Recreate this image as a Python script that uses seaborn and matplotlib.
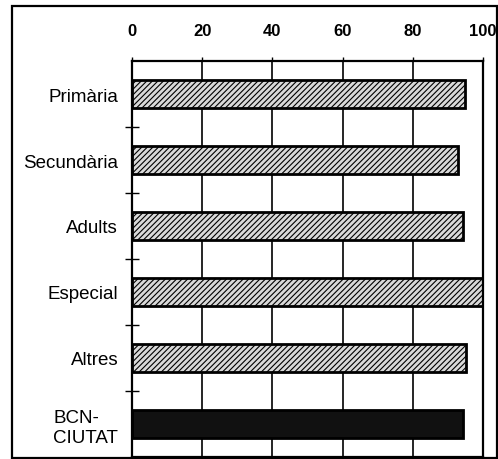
import matplotlib
matplotlib.use("Agg")
import matplotlib.pyplot as plt
import seaborn as sns
import pandas as pd
from matplotlib.patches import Rectangle
from matplotlib.ticker import FixedLocator

categories = ["Primària", "Secundària", "Adults", "Especial", "Altres", "BCN-\nCIUTAT"]
values = [94.9, 92.9, 94.3, 100.0, 95.2, 94.2]
fills = ["#d9d9d9", "#d9d9d9", "#d9d9d9", "#d9d9d9", "#d9d9d9", "#111111"]
hatches = ["//////", "//////", "//////", "//////", "//////", ""]
xticks = [0, 20, 40, 60, 80, 100]

sns.set_theme(style="white")
plt.rcParams["font.family"] = ["Liberation Sans", "DejaVu Sans"]
plt.rcParams["hatch.linewidth"] = 0.8

df = pd.DataFrame({"cat": categories, "val": values})

fig = plt.figure(figsize=(4.98, 4.60), dpi=100)
ax = fig.add_axes([132 / 498, 1 - 458 / 460, (483 - 132) / 498, (458 - 62) / 460])

sns.barplot(data=df, y="cat", x="val", hue="cat", palette=fills, legend=False,
            orient="h", width=0.41, ax=ax, edgecolor="black", linewidth=2.0,
            saturation=1)
for p, h in zip(ax.patches, hatches):
    p.set_hatch(h)

ax.set_xlim(0, 100)
ax.set_ylim(len(categories) - 0.5, -0.5)
ax.xaxis.tick_top()
ax.set_xticks(xticks)
ax.set_xticklabels([str(t) for t in xticks], fontsize=12, fontweight="bold")
ax.tick_params(axis="x", which="major", direction="out", length=3, width=1,
               pad=13.5, color="black", labelcolor="black")
ax.tick_params(axis="y", which="major", length=0, pad=10, labelsize=13.5,
               labelcolor="black")
for lab in ax.get_yticklabels():
    lab.set_multialignment("left")
ax.yaxis.set_minor_locator(FixedLocator([i + 0.5 for i in range(len(categories) - 1)]))
ax.tick_params(axis="y", which="minor", direction="inout", length=10, width=1,
               color="black", left=True)
ax.set_xlabel("")
ax.set_ylabel("")
ax.grid(False)
for x in xticks[1:-1]:
    ax.axvline(x, color="black", linewidth=1.2, zorder=0)
for s in ax.spines.values():
    s.set_visible(True)
    s.set_color("black")
    s.set_linewidth(1.6)

fig.patches.append(Rectangle((12 / 498, 1 / 460), (497 - 12) / 498, (452) / 460,
                             transform=fig.transFigure, fill=False,
                             edgecolor="black", linewidth=1.6))

fig.savefig("out.png", dpi=100)
